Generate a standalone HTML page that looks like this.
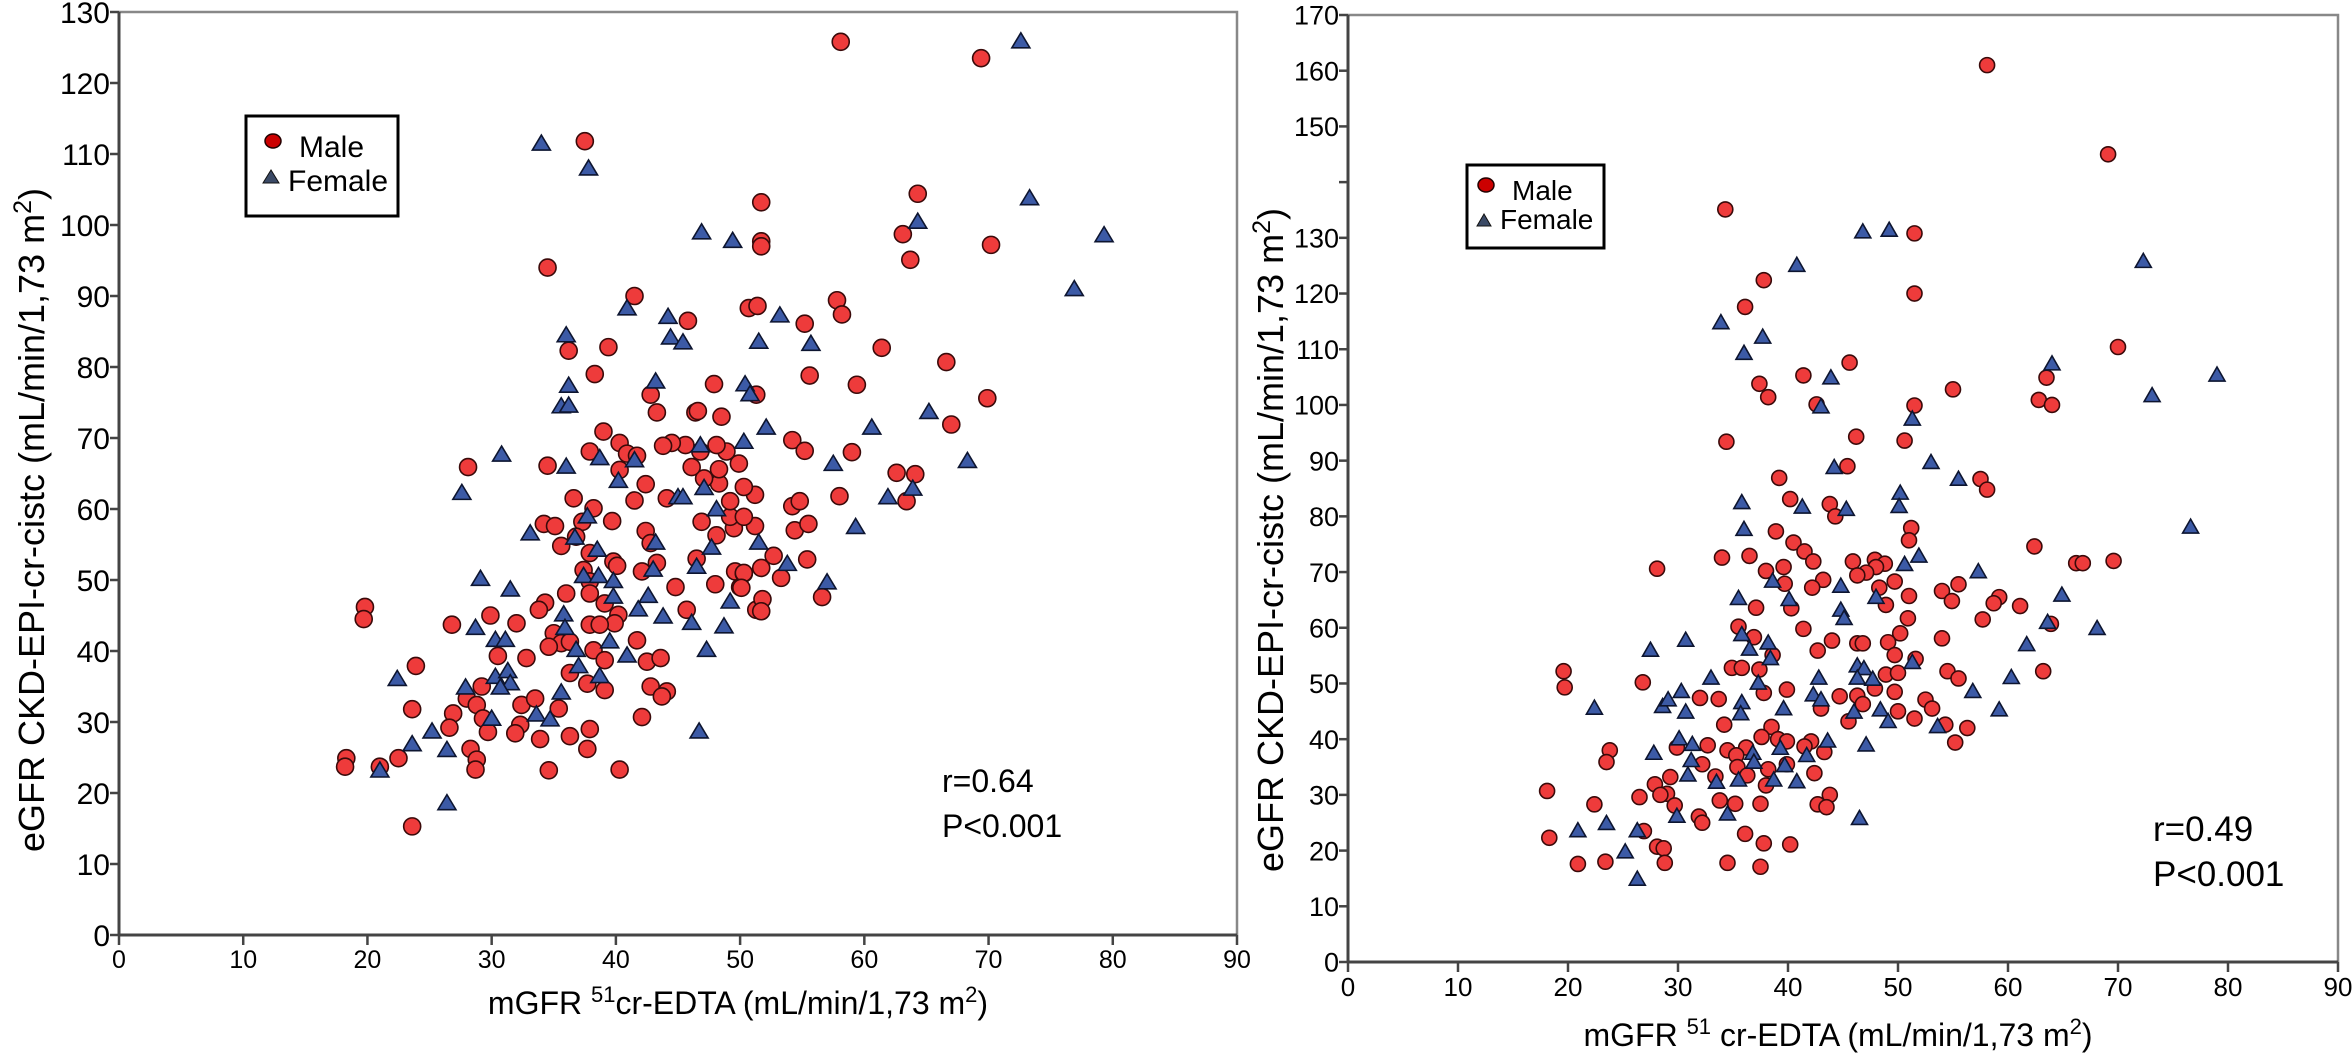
<!DOCTYPE html>
<html><head><meta charset="utf-8">
<style>
html,body{margin:0;padding:0;background:#fff;}
svg{display:block;font-family:"Liberation Sans",Arial,sans-serif;}
</style></head>
<body>
<svg id="fig" width="2352" height="1055" viewBox="0 0 2352 1055" xmlns="http://www.w3.org/2000/svg">
<rect x="0" y="0" width="2352" height="1055" fill="#fff"/>
</svg>
<script>
// ---------- Left chart data (mGFR, eGFR) ----------
const leftMaleX = [37.5,34.5,41.5,51.7,51.7,51.7,50.7,51.4,45.8,36.2,39.4,38.3,
19.8,19.7,28.1,34.5,37.9,39.0,40.3,40.9,41.7,40.3,42.4,36.6,41.5,38.2,39.7,34.2,35.1,35.6,37.3,36.8,37.9,39.8,40.1,42.4,42.8,43.3,42.1,37.4,37.9,37.9,39.1,40.2,39.9,37.9,38.7,36.0,34.3,33.8,32.0,29.9,26.8,35.0,35.6,34.6,36.3,38.2,39.1,41.7,42.5,43.6,42.8,44.1,43.7,39.1,37.7,36.3,32.8,30.5,23.9,23.6,26.9,26.6,28.0,29.2,28.8,29.3,29.7,32.4,33.5,35.4,32.3,31.9,33.9,36.3,37.9,37.7,42.1,44.8,45.7,48.0,50.0,49.6,50.3,46.5,46.9,48.1,49.5,49.2,49.2,48.3,47.1,46.1,48.3,49.9,48.9,48.1,46.8,45.6,44.5,43.8,46.4,46.6,48.5,43.3,42.8,47.9,44.1,51.3,28.3,28.8,28.7,22.5,21.0,18.3,18.2,23.6,34.6,40.3,
58.1,69.4,64.3,63.1,63.7,70.2,57.8,58.2,55.2,61.4,66.6,55.6,59.4,69.9,51.3,67.0,54.2,55.2,59.0,62.6,64.1,63.4,58.0,54.2,54.8,54.4,55.5,51.2,50.3,51.2,50.3,52.7,51.7,53.3,55.4,50.3,50.1,51.8,51.7,56.6];
const leftMaleY = [111.8,94.0,90.0,103.2,97.7,97.0,88.3,88.6,86.5,82.3,82.8,79.0,
46.2,44.5,65.9,66.1,68.1,70.9,69.3,67.8,67.5,65.5,63.5,61.5,61.2,60.1,58.3,57.9,57.6,54.8,58.2,56.1,53.8,52.6,52.0,56.9,55.2,52.4,51.2,51.4,49.8,48.1,46.7,45.1,43.9,43.7,43.7,48.1,46.8,45.8,43.9,45.0,43.7,42.5,41.1,40.6,41.3,40.1,38.7,41.5,38.5,39.0,35.0,34.3,33.6,34.5,35.4,36.9,39.0,39.3,37.9,31.8,31.2,29.2,33.3,35.0,32.4,30.5,28.6,32.4,33.3,31.9,29.6,28.4,27.6,28.0,29.0,26.2,30.7,49.0,45.8,49.4,49.0,51.2,50.9,53.0,58.2,56.3,57.3,58.9,61.1,63.6,64.3,65.9,65.6,66.4,68.1,69.0,68.1,69.0,69.3,68.9,73.6,73.8,73.0,73.6,76.1,77.6,61.5,45.8,26.2,24.7,23.3,24.9,23.7,24.9,23.7,15.3,23.2,23.3,
125.8,123.5,104.4,98.7,95.1,97.2,89.4,87.4,86.1,82.7,80.7,78.8,77.5,75.6,76.1,71.9,69.7,68.2,68.0,65.1,64.9,61.1,61.8,60.4,61.1,57.0,57.9,62.0,63.1,57.6,58.9,53.4,51.7,50.3,52.9,51.0,48.9,47.3,45.6,47.6];
const leftFemaleX = [34.0,37.8,46.9,49.4,40.9,44.2,44.4,45.4,36.0,51.5,
30.8,27.6,36.0,38.7,41.5,40.2,35.6,36.2,36.2,43.2,46.8,47.1,45.0,45.4,48.1,47.7,46.5,43.0,43.2,37.7,36.7,38.5,33.1,37.4,38.6,39.8,39.8,42.6,41.8,43.8,46.1,48.7,49.2,47.3,40.9,39.5,36.8,37.0,38.7,35.8,35.9,31.5,29.1,28.7,30.3,31.1,30.3,31.3,31.5,30.7,27.9,22.4,25.2,23.6,26.4,30.0,33.6,34.7,35.6,46.7,26.4,21.0,
72.6,73.3,64.3,79.3,76.9,53.2,55.7,50.4,50.8,52.1,60.6,65.2,50.3,57.5,68.3,63.9,61.9,59.3,51.5,53.8,57.0];
const leftFemaleY = [111.4,107.9,98.9,97.7,88.2,87.0,84.1,83.4,84.4,83.5,
67.6,62.2,65.9,67.1,66.8,63.9,74.4,74.5,77.3,77.9,68.9,62.9,61.6,61.6,59.9,54.5,51.8,51.4,55.2,58.9,55.9,54.2,56.5,50.5,50.5,49.8,47.6,47.7,45.8,44.8,43.9,43.4,46.9,40.1,39.3,41.3,40.1,37.8,36.4,45.1,43.2,48.6,50.1,43.2,41.5,41.5,36.3,37.1,35.4,34.8,34.8,36.0,28.6,26.8,26.0,30.4,31.0,30.3,34.1,28.6,18.5,23.1,
125.8,103.7,100.4,98.5,90.9,87.2,83.2,77.5,76.1,71.4,71.4,73.6,69.4,66.3,66.7,62.8,61.6,57.4,55.2,52.2,49.6];

// ---------- Right chart data ----------
const rightMaleX = [58.1,69.1,70.0,63.5,62.8,64.0,62.4,66.2,66.8,69.6,59.2,61.1,63.9,63.2,
34.3,51.5,37.8,51.5,36.1,45.6,41.4,55.0,37.4,38.2,42.6,51.5,34.4,46.2,50.6,45.4,39.2,57.5,58.1,40.2,43.8,44.3,51.2,51.0,38.9,40.5,41.5,42.3,45.9,47.9,48.8,48.0,47.1,46.3,39.6,38.0,34.0,36.5,28.1,39.7,43.2,42.2,49.7,48.3,48.9,51.0,55.5,54.0,54.9,58.7,57.7,50.9,37.1,40.3,35.5,36.9,41.4,50.2,54.0,44.0,46.3,46.8,49.1,42.7,49.7,38.6,34.9,35.8,37.4,26.8,19.6,19.7,51.6,48.9,50.0,54.5,55.5,47.9,49.7,37.8,39.9,32.0,33.7,44.7,46.3,46.8,43.0,52.5,53.1,50.0,51.5,45.5,54.3,56.3,55.2,34.2,38.5,39.1,39.9,37.6,42.1,41.5,43.3,36.2,34.5,35.3,32.7,29.9,23.8,23.5,32.2,35.4,38.2,39.9,33.4,36.3,42.4,38.0,29.3,27.9,29.0,28.4,29.7,26.5,43.8,42.7,43.5,33.8,35.2,37.5,22.4,18.1,31.9,32.2,26.9,18.3,28.1,28.7,28.8,20.9,23.4,36.1,37.8,40.2,34.5,37.5];
const rightMaleY = [161.0,145.0,110.4,104.9,100.9,100.0,74.6,71.6,71.6,72.0,65.5,63.9,60.7,52.2,
135.1,130.8,122.4,120.0,117.6,107.6,105.3,102.8,103.8,101.4,100.1,99.9,93.4,94.3,93.6,89.0,86.9,86.7,84.8,83.1,82.2,80.0,77.9,75.7,77.3,75.3,73.7,71.9,71.9,72.2,71.5,70.9,69.9,69.4,70.9,70.2,72.6,72.9,70.6,67.9,68.6,67.2,68.3,67.2,64.1,65.7,67.8,66.6,64.8,64.4,61.5,61.7,63.6,63.5,60.2,58.3,59.8,59.0,58.1,57.7,57.2,57.2,57.4,55.9,55.1,55.1,52.8,52.8,52.5,50.2,52.2,49.3,54.4,51.6,51.9,52.2,50.9,49.1,48.5,48.3,48.9,47.4,47.2,47.7,47.8,46.3,45.5,47.1,45.5,45.0,43.7,43.2,42.6,42.0,39.4,42.6,42.2,40.0,39.6,40.4,39.6,38.7,37.7,38.5,38.0,37.1,38.9,38.5,38.0,35.9,35.5,35.0,34.6,35.5,33.3,33.5,33.9,31.7,33.2,31.9,30.2,30.0,28.1,29.6,30.0,28.3,27.8,29.0,28.4,28.4,28.3,30.7,26.1,25.0,23.5,22.3,20.7,20.4,17.8,17.6,18.0,23.0,21.3,21.1,17.8,17.1];
const rightFemaleX = [72.3,64.0,79.0,73.1,76.6,64.9,63.6,68.1,61.7,60.3,59.2,
46.8,49.2,40.8,33.9,37.7,36.0,43.9,43.0,51.3,53.0,44.2,55.5,50.2,50.1,35.8,41.3,45.3,36.0,51.9,50.6,57.3,38.6,44.8,48.0,35.5,40.1,44.8,45.1,35.8,36.5,38.2,38.4,30.7,27.5,33.0,37.3,42.8,46.3,46.9,46.3,47.7,51.3,56.8,22.4,28.6,29.1,30.3,30.7,35.8,35.7,39.6,42.3,43.0,46.0,48.4,49.1,53.6,47.1,43.6,30.1,31.3,31.2,27.8,36.8,36.9,39.3,39.7,41.7,30.9,33.5,35.5,38.7,40.8,29.9,34.5,46.5,20.9,23.5,26.3,25.2,26.3];
const rightFemaleY = [125.7,107.3,105.3,101.6,78.0,65.8,60.9,59.8,56.9,51.0,45.2,
131.0,131.3,125.0,114.7,112.1,109.2,104.8,99.6,97.4,89.6,88.7,86.6,84.1,81.7,82.4,81.6,81.2,77.6,72.8,71.3,70.0,68.3,67.4,65.4,65.2,65.0,63.1,61.6,58.7,56.1,57.2,54.4,57.7,55.9,50.9,50.0,50.9,53.1,52.6,50.9,50.7,53.7,48.5,45.5,45.8,47.0,48.5,44.8,46.5,44.5,45.4,47.9,47.0,44.8,45.2,43.1,42.2,38.9,39.6,40.0,39.0,36.1,37.4,37.4,35.8,38.3,35.2,37.0,33.5,32.2,32.6,32.6,32.3,26.1,26.5,25.7,23.5,24.8,23.5,19.7,14.8];

// ---------- Tick labels ----------
const leftXTicks = [0,10,20,30,40,50,60,70,80,90];
const leftYTicks = [0,10,20,30,40,50,60,70,80,90,100,110,120,130];
const rightXTicks = [0,10,20,30,40,50,60,70,80,90];
const rightYTicks = [0,10,20,30,40,50,60,70,80,90,100,110,120,130,140,150,160,170];
const rightYHidden = [140];

const NS = "http://www.w3.org/2000/svg";
const svg = document.getElementById('fig');
function mk(tag, attrs, parent){
  const e = document.createElementNS(NS, tag);
  for (const k in attrs) e.setAttribute(k, attrs[k]);
  (parent||svg).appendChild(e);
  return e;
}

function chart(cfg){
  const g = mk('g', {});
  
  
  const sx = v => cfg.x0 + (v - cfg.xmin) / (cfg.xmax - cfg.xmin) * (cfg.x1 - cfg.x0);
  const sy = v => cfg.y0 - (v - cfg.ymin) / (cfg.ymax - cfg.ymin) * (cfg.y0 - cfg.y1);
  const fr = mk('path', {d:`M${cfg.x0},${cfg.y1} H${cfg.x1} V${cfg.y0}`, fill:'none', stroke:'#888', 'stroke-width':2.5}, g);
  
  
  const ya = mk('line', {x1:cfg.x0, y1:cfg.y1, x2:cfg.x0, y2:cfg.y0, stroke:'#444', 'stroke-width':3}, g);
  
  
  const xa = mk('line', {x1:cfg.x0, y1:cfg.y0, x2:cfg.x1, y2:cfg.y0, stroke:'#444', 'stroke-width':3}, g);
  
  
  cfg.yTicks.forEach(v => {
    const y = sy(v);
    mk('line', {x1:cfg.x0-9, y1:y, x2:cfg.x0, y2:y, stroke:'#444', 'stroke-width':2.5}, g);
    if (cfg.yHidden.indexOf(v) < 0) {
      const t = mk('text', {x:cfg.x0-9, y:y+cfg.yfs*0.36, 'text-anchor':'end', 'font-size':cfg.yfs, fill:'#000'}, g);
      t.textContent = v;
      
      
    }
  });
  cfg.xTicks.forEach(v => {
    const x = sx(v);
    mk('line', {x1:x, y1:cfg.y0, x2:x, y2:cfg.y0+10, stroke:'#444', 'stroke-width':2.5}, g);
    const t = mk('text', {x:x, y:cfg.y0+cfg.xfs+8, 'text-anchor':'middle', 'font-size':cfg.xfs, fill:'#000'}, g);
    t.textContent = v;
    
    
  });
  for (let i = 0; i < cfg.mx.length; i++) {
    const c = mk('circle', {cx:sx(cfg.mx[i]), cy:sy(cfg.my[i]), r:cfg.r, fill:'#ee3b3b', stroke:'#3a0a0a', 'stroke-width':1.6}, g);
    
    
  }
  for (let i = 0; i < cfg.fx.length; i++) {
    const x = sx(cfg.fx[i]), y = sy(cfg.fy[i]), w = cfg.tw, h = cfg.th;
    const p = mk('polygon', {points:`${x},${y-h*0.6} ${x-w/2},${y+h*0.4} ${x+w/2},${y+h*0.4}`, fill:'#3c5aa6', stroke:'#0d1530', 'stroke-width':1.6}, g);
    
    
  }
  return g;
}

chart({name:'left-scatter-chart', x0:119, x1:1237, y0:935, y1:12, xmin:0, xmax:90, ymin:0, ymax:130,
  xTicks:leftXTicks, yTicks:leftYTicks, yHidden:[], xfs:25, yfs:30, r:8.5, tw:18, th:15,
  mx:leftMaleX, my:leftMaleY, fx:leftFemaleX, fy:leftFemaleY});
chart({name:'right-scatter-chart', x0:1348, x1:2338, y0:962, y1:15, xmin:0, xmax:90, ymin:0, ymax:170,
  xTicks:rightXTicks, yTicks:rightYTicks, yHidden:rightYHidden, xfs:26, yfs:27, r:7.5, tw:16, th:14,
  mx:rightMaleX, my:rightMaleY, fx:rightFemaleX, fy:rightFemaleY});
</script>
<svg style="position:absolute;left:0;top:0" width="2352" height="1055">
  <g>
    <rect x="246" y="116" width="152" height="100" fill="#fff" stroke="#000" stroke-width="3"/>
    <ellipse cx="273" cy="141" rx="8" ry="7" fill="#cc0000" stroke="#200" stroke-width="1.5"/>
    <text x="299" y="157" font-size="30" font-family="Liberation Sans, sans-serif">Male</text>
    <polygon points="271,170 263,183 279,183" fill="#3b4a66" stroke="#111" stroke-width="1"/>
    <text x="288" y="191" font-size="30" font-family="Liberation Sans, sans-serif">Female</text>
  </g>
  <g>
    <rect x="1467" y="165" width="137" height="83" fill="#fff" stroke="#000" stroke-width="3"/>
    <ellipse cx="1486" cy="185" rx="8" ry="7" fill="#cc0000" stroke="#200" stroke-width="1.5"/>
    <text x="1512" y="200" font-size="28" font-family="Liberation Sans, sans-serif">Male</text>
    <polygon points="1484,214 1477,226 1491,226" fill="#3b4a66" stroke="#111" stroke-width="1"/>
    <text x="1500" y="229" font-size="28" font-family="Liberation Sans, sans-serif">Female</text>
  </g>
  <text x="942" y="792" font-size="32" font-family="Liberation Sans, sans-serif">r=0.64</text>
  <text x="942" y="837" font-size="32" font-family="Liberation Sans, sans-serif">P&lt;0.001</text>
  <text x="2153" y="841" font-size="35" font-family="Liberation Sans, sans-serif">r=0.49</text>
  <text x="2153" y="886" font-size="35" font-family="Liberation Sans, sans-serif">P&lt;0.001</text>
  <text x="738" y="1014" text-anchor="middle" font-size="32" font-family="Liberation Sans, sans-serif">mGFR <tspan dy="-12" font-size="22">51</tspan><tspan dy="12">cr-EDTA (mL/min/1,73 m</tspan><tspan dy="-12" font-size="22">2</tspan><tspan dy="12">)</tspan></text>
  <text x="1838" y="1046" text-anchor="middle" font-size="32" font-family="Liberation Sans, sans-serif">mGFR <tspan dy="-12" font-size="22">51</tspan><tspan dy="12"> cr-EDTA (mL/min/1,73 m</tspan><tspan dy="-12" font-size="22">2</tspan><tspan dy="12">)</tspan></text>
  <text transform="translate(44,520) rotate(-90)" text-anchor="middle" font-size="36" font-family="Liberation Sans, sans-serif">eGFR CKD-EPI-cr-cistc  (mL/min/1,73 m<tspan dy="-13" font-size="25">2</tspan><tspan dy="13">)</tspan></text>
  <text transform="translate(1283,540) rotate(-90)" text-anchor="middle" font-size="36" font-family="Liberation Sans, sans-serif">eGFR CKD-EPI-cr-cistc  (mL/min/1,73 m<tspan dy="-13" font-size="25">2</tspan><tspan dy="13">)</tspan></text>
</svg>
</body></html>
